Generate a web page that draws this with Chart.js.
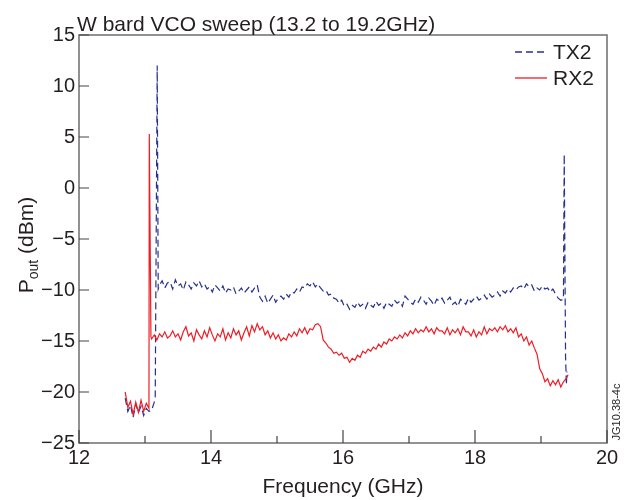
<!DOCTYPE html>
<html lang="en">
<head>
<meta charset="UTF-8" />
<title>W band VCO sweep</title>
<script src="https://cdn.jsdelivr.net/npm/chart.js"></script>
<style>
  html, body { margin: 0; padding: 0; background: #fff; }
  .wrap { width: 626px; height: 500px; }
</style>
</head>
<body>
<div class="wrap"><canvas id="sweep" width="626" height="500"></canvas></div>
<script>
// sweep grid (GHz)
const freqGHz = [
  12.70, 12.74, 12.78, 12.82, 12.86, 12.90, 12.94, 12.98, 13.02, 13.06,
  13.10, 13.14, 13.18, 13.22, 13.26, 13.30, 13.34, 13.38, 13.42, 13.46,
  13.50, 13.54, 13.58, 13.62, 13.66, 13.70, 13.74, 13.78, 13.82, 13.86,
  13.90, 13.94, 13.98, 14.02, 14.06, 14.10, 14.14, 14.18, 14.22, 14.26,
  14.30, 14.34, 14.38, 14.42, 14.46, 14.50, 14.54, 14.58, 14.62, 14.66,
  14.70, 14.74, 14.78, 14.82, 14.86, 14.90, 14.94, 14.98, 15.02, 15.06,
  15.10, 15.14, 15.18, 15.22, 15.26, 15.30, 15.34, 15.38, 15.42, 15.46,
  15.50, 15.54, 15.58, 15.62, 15.66, 15.70, 15.74, 15.78, 15.82, 15.86,
  15.90, 15.94, 15.98, 16.02, 16.06, 16.10, 16.14, 16.18, 16.22, 16.26,
  16.30, 16.34, 16.38, 16.42, 16.46, 16.50, 16.54, 16.58, 16.62, 16.66,
  16.70, 16.74, 16.78, 16.82, 16.86, 16.90, 16.94, 16.98, 17.02, 17.06,
  17.10, 17.14, 17.18, 17.22, 17.26, 17.30, 17.34, 17.38, 17.42, 17.46,
  17.50, 17.54, 17.58, 17.62, 17.66, 17.70, 17.74, 17.78, 17.82, 17.86,
  17.90, 17.94, 17.98, 18.02, 18.06, 18.10, 18.14, 18.18, 18.22, 18.26,
  18.30, 18.34, 18.38, 18.42, 18.46, 18.50, 18.54, 18.58, 18.62, 18.66,
  18.70, 18.74, 18.78, 18.82, 18.86, 18.90, 18.94, 18.98, 19.02, 19.06,
  19.10, 19.14, 19.18, 19.22, 19.26, 19.30, 19.34
];

// Pout (dBm) on the grid; null where the spike points below take over
const tx2Power = [
  -20.6, -21.9, -21.3, -22.5, -21.2, -22.0, -21.4, -22.3, -21.6, -21.9,
  -21.8, -21.0, null, -9.5, -9.1, -9.8, -9.3, -9.2, -9.9, -9.0,
  -9.6, -9.4, -10.0, -9.2, -9.5, -9.9, -9.3, -9.6, -9.1, -9.7,
  -9.4, -9.9, -9.7, -10.2, -9.5, -9.8, -10.1, -9.6, -10.3, -9.9,
  -10.0, -9.7, -10.4, -10.1, -9.8, -10.3, -10.0, -9.7, -10.2, -9.8,
  -9.5, -10.7, -11.1, -10.6, -11.3, -10.9, -10.5, -11.2, -10.8, -10.6,
  -10.9, -10.4, -10.7, -10.2, -10.3, -9.9, -10.2, -9.7, -9.8, -9.4,
  -9.6, -9.2, -9.7, -9.4, -9.8, -10.1, -10.0, -10.5, -10.4, -10.8,
  -10.9, -11.3, -11.0, -11.6, -11.4, -11.9, -11.5, -11.7, -11.2, -11.6,
  -11.4, -11.8, -11.2, -11.5, -11.7, -11.1, -11.5, -11.3, -11.8, -11.2,
  -11.4, -11.6, -11.0, -11.3, -11.1, -11.6, -10.6, -10.9, -11.2, -11.4,
  -10.9, -11.2, -10.7, -11.0, -11.4, -10.8, -11.1, -11.5, -10.9, -11.1,
  -10.8, -11.3, -11.0, -10.7, -11.4, -11.2, -11.6, -10.9, -11.1, -11.4,
  -10.8, -11.2, -10.9, -10.6, -11.0, -10.8, -10.5, -10.9, -10.4, -10.7,
  -10.5, -10.2, -10.6, -10.1, -10.3, -9.9, -10.2, -9.8, -10.0, -9.7,
  -9.6, -9.9, -9.4, -9.7, -9.5, -10.1, -9.8, -10.0, -9.6, -9.9,
  -9.8, -10.2, -9.9, -10.4, -10.8, -11.0, -10.9
];
const rx2Power = [
  -20.0, -21.5, -20.9, -22.2, -21.0, -22.0, -20.8, -21.9, -21.1, -21.6,
  -14.8, -14.4, -14.9, -14.3, -14.6, -14.1, -14.7, -14.5, -14.0, -14.6,
  -14.3, -14.9, -14.1, -13.6, -14.5, -14.2, -15.0, -13.9, -14.4, -14.8,
  -14.0, -14.6, -13.7, -14.4, -15.0, -14.3, -14.6, -13.8, -14.9, -14.2,
  -14.7, -13.8, -14.4, -14.0, -14.9, -14.2, -13.6, -14.5, -13.5, -14.1,
  -13.3, -13.9, -13.6, -14.4, -14.0, -14.7, -14.2, -14.8, -14.4, -15.0,
  -14.7, -14.9, -14.3, -14.6, -14.1, -14.5, -13.8, -14.2, -13.7, -14.3,
  -13.8, -13.9, -13.4, -13.3, -13.6, -14.9, -15.2, -15.6, -15.8, -16.2,
  -16.1, -16.4, -16.2, -16.7, -16.6, -17.1, -16.7, -16.9, -16.4, -16.6,
  -16.0, -16.2, -15.8, -16.0, -15.6, -15.8, -15.3, -15.6, -15.1, -15.3,
  -14.8, -15.0, -14.6, -14.8, -14.4, -14.7, -14.2, -14.5, -14.0, -14.3,
  -13.8, -14.2, -13.9, -14.1, -13.6, -14.1, -13.8, -14.3, -13.7, -14.0,
  -14.0, -14.3, -13.7, -14.4, -13.9, -14.2, -13.8, -14.4, -13.6, -14.1,
  -14.1, -14.5, -13.9, -14.6, -14.1, -14.4, -13.6, -14.3, -13.8, -14.0,
  -13.7, -14.1, -13.6, -13.9, -13.5, -14.1, -13.8, -14.2, -13.7, -14.6,
  -14.3, -15.0, -14.6, -15.4, -15.0, -15.7, -16.3, -17.7, -18.2, -19.0,
  -18.7, -19.4, -18.9, -19.3, -18.8, -19.5, -19.0
];

// band-edge spikes off the grid
const tx2SpikeFreq = [13.155, 13.185, 13.20, 19.352, 19.372, 19.385, 19.392];
const tx2SpikePower = [-20.5, 12.0, -9.9, 3.3, -16.5, -19.3, -18.0];
const rx2SpikeFreq = [13.065, 13.09, 19.38, 19.41];
const rx2SpikePower = [5.3, -14.6, -18.7, -18.3];

const seriesNames = ["TX2", "RX2"];
const seriesColors = ["#26308f", "#ee1c25"];
const minorFreqTicks = [13, 15, 17, 19];

const font = '"Liberation Sans", Arial, Helvetica, sans-serif';
const minus = (v) => (v < 0 ? "\u2212" + Math.abs(v) : String(v));

function toPoints(fs, ps, extraF, extraP) {
  const pts = [];
  fs.forEach((f, i) => { if (ps[i] !== null) pts.push({ x: f, y: ps[i] }); });
  extraF.forEach((f, i) => pts.push({ x: f, y: extraP[i] }));
  return pts.sort((a, b) => a.x - b.x);
}

const decor = {
  id: "decor",
  afterDraw(chart) {
    const { ctx, chartArea: a, scales } = chart;
    const xs = scales.x, ys = scales.y;
    ctx.save();

    // frame
    ctx.strokeStyle = "#6d6e71";
    ctx.lineWidth = 1.5;
    ctx.strokeRect(a.left, a.top, a.right - a.left, a.bottom - a.top);

    // inward tick marks
    ctx.strokeStyle = "#444";
    ctx.lineWidth = 1.2;
    ctx.beginPath();
    ys.ticks.forEach((t) => {
      const y = ys.getPixelForValue(t.value);
      ctx.moveTo(a.left, y); ctx.lineTo(a.left + 10, y);
    });
    xs.ticks.forEach((t) => {
      const x = xs.getPixelForValue(t.value);
      ctx.moveTo(x, a.bottom); ctx.lineTo(x, a.bottom - 13);
    });
    minorFreqTicks.forEach((v) => {
      const x = xs.getPixelForValue(v);
      ctx.moveTo(x, a.bottom); ctx.lineTo(x, a.bottom - 7);
    });
    ctx.stroke();

    ctx.fillStyle = "#231f20";

    // title
    ctx.font = "21px " + font;
    ctx.textAlign = "left";
    ctx.textBaseline = "alphabetic";
    ctx.fillText("W bard VCO sweep (13.2 to 19.2GHz)", a.left - 2, a.top - 4);

    // x title
    ctx.textAlign = "center";
    ctx.fillText("Frequency (GHz)", (a.left + a.right) / 2, 493);

    // y title with subscript
    ctx.save();
    ctx.translate(33, (a.top + a.bottom) / 2 + 6);
    ctx.rotate(-Math.PI / 2);
    ctx.textAlign = "left";
    ctx.font = "21px " + font;
    const wP = ctx.measureText("P").width;
    ctx.font = "14px " + font;
    const wSub = ctx.measureText("out").width;
    ctx.font = "21px " + font;
    const wRest = ctx.measureText(" (dBm)").width;
    let x0 = -(wP + wSub + wRest) / 2;
    ctx.fillText("P", x0, 0);
    ctx.font = "14px " + font;
    ctx.fillText("out", x0 + wP, 5);
    ctx.font = "21px " + font;
    ctx.fillText(" (dBm)", x0 + wP + wSub, 0);
    ctx.restore();

    // figure code on the right edge
    ctx.save();
    ctx.translate(620, 412);
    ctx.rotate(-Math.PI / 2);
    ctx.font = "11px " + font;
    ctx.textAlign = "center";
    ctx.fillText("JG10.38-4c", 0, 0);
    ctx.restore();

    // legend inside top right
    chart.data.datasets.slice().sort((p, q) => p.legendIndex - q.legendIndex).forEach((ds, i) => {
      const y = a.top + 17 + i * 26;
      ctx.strokeStyle = ds.borderColor;
      ctx.lineWidth = 1.3;
      ctx.setLineDash(ds.borderDash || []);
      ctx.beginPath();
      ctx.moveTo(a.right - 92, y); ctx.lineTo(a.right - 60, y);
      ctx.stroke();
      ctx.setLineDash([]);
      ctx.font = "21px " + font;
      ctx.textAlign = "left";
      ctx.textBaseline = "middle";
      ctx.fillStyle = "#231f20";
      ctx.fillText(ds.label, a.right - 54, y + 1);
    });

    ctx.restore();
  }
};

new Chart(document.getElementById("sweep"), {
  type: "line",
  data: {
    datasets: [
      {
        label: seriesNames[1],
        legendIndex: 1,
        data: toPoints(freqGHz, rx2Power, rx2SpikeFreq, rx2SpikePower),
        borderColor: seriesColors[1],
        borderWidth: 1.2,
        pointRadius: 0,
        order: 0
      },
      {
        label: seriesNames[0],
        legendIndex: 0,
        data: toPoints(freqGHz, tx2Power, tx2SpikeFreq, tx2SpikePower),
        borderColor: seriesColors[0],
        borderWidth: 1.2,
        borderDash: [7, 4],
        pointRadius: 0,
        order: 1
      }
    ]
  },
  options: {
    responsive: false,
    animation: false,
    events: [],
    layout: { padding: { top: 35, right: 19, left: 0, bottom: 0 } },
    plugins: { legend: { display: false }, title: { display: false }, tooltip: { enabled: false } },
    scales: {
      x: {
        type: "linear",
        min: 12,
        max: 20,
        grid: { display: false, drawTicks: false },
        border: { display: false },
        ticks: { stepSize: 2, padding: 3, maxRotation: 0, autoSkip: false, color: "#231f20", font: { family: font, size: 20 } },
        afterFit: (s) => { s.height = 57; }
      },
      y: {
        min: -25,
        max: 15,
        grid: { display: false, drawTicks: false },
        border: { display: false },
        ticks: { stepSize: 5, padding: 4, color: "#231f20", font: { family: font, size: 20 }, callback: (v) => minus(v) },
        afterFit: (s) => { s.width = 79; }
      }
    }
  },
  plugins: [decor]
});
</script>
</body>
</html>
